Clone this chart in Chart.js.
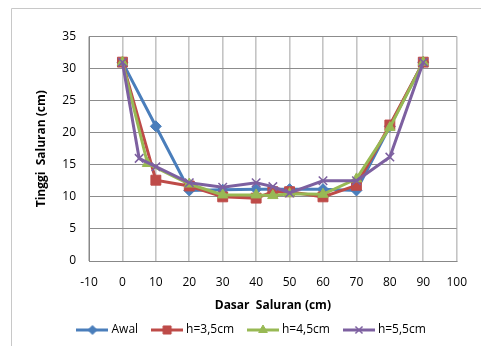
<!DOCTYPE html>
<html>
<head>
<meta charset="utf-8">
<script src="https://cdn.jsdelivr.net/npm/chart.js@4/dist/chart.umd.min.js"></script>
<style>
  html, body { margin: 0; padding: 0; background: #ffffff; }
  #wrap { width: 481px; height: 346px; }
</style>
</head>
<body>
<div id="wrap"><canvas id="c" width="481" height="346"></canvas></div>
<script>
// ---- data ----
const seriesNames = ['Awal', 'h=3,5cm', 'h=4,5cm', 'h=5,5cm'];

const awalX = [0, 10, 20, 30, 40, 50, 60, 70, 80, 90];
const awalY = [31, 21, 11, 11.1, 11.2, 11.2, 11.2, 11, 21, 31];

const h35X = [0, 10, 20, 30, 40, 45, 50, 60, 70, 80, 90];
const h35Y = [31, 12.6, 11.7, 10, 9.8, 10.8, 10.8, 10, 11.8, 21.2, 31];

const h45X = [0, 7.5, 20, 30, 40, 45, 50, 60, 70, 80, 90];
const h45Y = [31, 15.2, 12, 10.3, 10.3, 10.2, 10.5, 10.4, 12.8, 20.8, 31];

const h55X = [0, 5, 10, 20, 30, 40, 45, 50, 60, 70, 80, 90];
const h55Y = [31, 16, 14.7, 12.2, 11.5, 12.2, 11.6, 10.6, 12.5, 12.5, 16.2, 31];

const xTicksMin = -10, xTicksMax = 100, xStep = 10;
const yTicksMin = 0, yTicksMax = 35, yStep = 5;
const xTitle = 'Dasar  Saluran (cm)';
const yTitle = 'Tinggi  Saluran (cm)';

// ---- styling ----
const colors = ['#4A7EBB', '#BE4B48', '#98B954', '#7D60A0'];
const styles = ['rectRot', 'rect', 'triangle', 'crossRot'];
const radii = [5.5, 7, 6, 6];
const legendRadii = [4.5, 5.7, 5, 5];
const FONT = "'Open Sans', 'Liberation Sans', sans-serif";

function pts(xs, ys) { return xs.map((x, i) => ({ x: x, y: ys[i] })); }
const allData = [pts(awalX, awalY), pts(h35X, h35Y), pts(h45X, h45Y), pts(h55X, h55Y)];

function legendImage(i) {
  const cv = document.createElement('canvas');
  cv.width = 32; cv.height = 14;
  const ctx = cv.getContext('2d');
  ctx.strokeStyle = colors[i];
  ctx.lineWidth = 3;
  ctx.beginPath(); ctx.moveTo(0, 7); ctx.lineTo(32, 7); ctx.stroke();
  ctx.fillStyle = colors[i];
  ctx.strokeStyle = colors[i];
  ctx.lineWidth = i === 3 ? 1.5 : 1;
  Chart.helpers.drawPoint(ctx, { pointStyle: styles[i], radius: legendRadii[i], borderWidth: ctx.lineWidth, rotation: 0 }, 16, 7);
  return cv;
}

const datasets = allData.map((d, i) => ({
  label: seriesNames[i],
  data: d,
  showLine: true,
  borderColor: colors[i],
  backgroundColor: colors[i],
  borderWidth: 3,
  pointStyle: styles[i],
  pointRadius: radii[i],
  pointBackgroundColor: colors[i],
  pointBorderColor: colors[i],
  pointBorderWidth: i === 3 ? 1.5 : 1,
  order: 4 - i,
  tension: 0
}));

const frame = {
  id: 'frame',
  beforeDraw(chart) {
    const ctx = chart.ctx;
    ctx.save();
    ctx.fillStyle = '#ffffff';
    ctx.fillRect(0, 0, chart.width, chart.height);
    ctx.strokeStyle = '#c8c8c8';
    ctx.lineWidth = 1;
    ctx.beginPath();
    ctx.moveTo(11.5, chart.height + 2);
    ctx.lineTo(11.5, 8.5);
    ctx.lineTo(chart.width + 2, 8.5);
    ctx.stroke();
    ctx.restore();
  }
};

new Chart(document.getElementById('c'), {
  type: 'scatter',
  data: { datasets: datasets },
  plugins: [frame],
  options: {
    responsive: false,
    animation: false,
    layout: { padding: { left: 46, right: 21.7, top: 36.5, bottom: 0 } },
    plugins: {
      tooltip: { enabled: false },
      legend: {
        position: 'bottom',
        labels: {
          usePointStyle: true,
          pointStyleWidth: 26,
          boxHeight: 12,
          padding: 16,
          color: '#000000',
          font: { family: FONT, size: 12 },
          generateLabels(chart) {
            return chart.data.datasets.map((ds, i) => ({
              text: ds.label,
              pointStyle: legendImage(i),
              fillStyle: colors[i],
              strokeStyle: colors[i],
              lineWidth: 0,
              hidden: false,
              datasetIndex: i,
              fontColor: '#000000'
            }));
          }
        }
      }
    },
    scales: {
      x: {
        type: 'linear',
        min: xTicksMin, max: xTicksMax,
        ticks: { stepSize: xStep, padding: 14, color: '#000000', font: { family: FONT, size: 12 } },
        grid: { color: '#c4c4c4', lineWidth: 1.6, drawTicks: false },
        border: { color: '#888888', width: 1 },
        title: { display: true, text: xTitle, color: '#000000', font: { family: FONT, size: 12, weight: 'bold' }, padding: { top: 0, bottom: -5.2 } },
        afterFit(scale) { scale.height = 47; }
      },
      y: {
        type: 'linear',
        min: yTicksMin, max: yTicksMax,
        ticks: { stepSize: yStep, padding: 13, color: '#000000', font: { family: FONT, size: 12 } },
        grid: { color: '#8c8c8c', lineWidth: 1, drawTicks: false },
        border: { color: '#888888', width: 1 },
        title: { display: true, text: yTitle, color: '#000000', font: { family: FONT, size: 12, weight: 'bold' }, padding: { top: -12, bottom: 4 } },
        afterFit(scale) { scale.width = 43; }
      }
    }
  }
});
</script>
</body>
</html>
